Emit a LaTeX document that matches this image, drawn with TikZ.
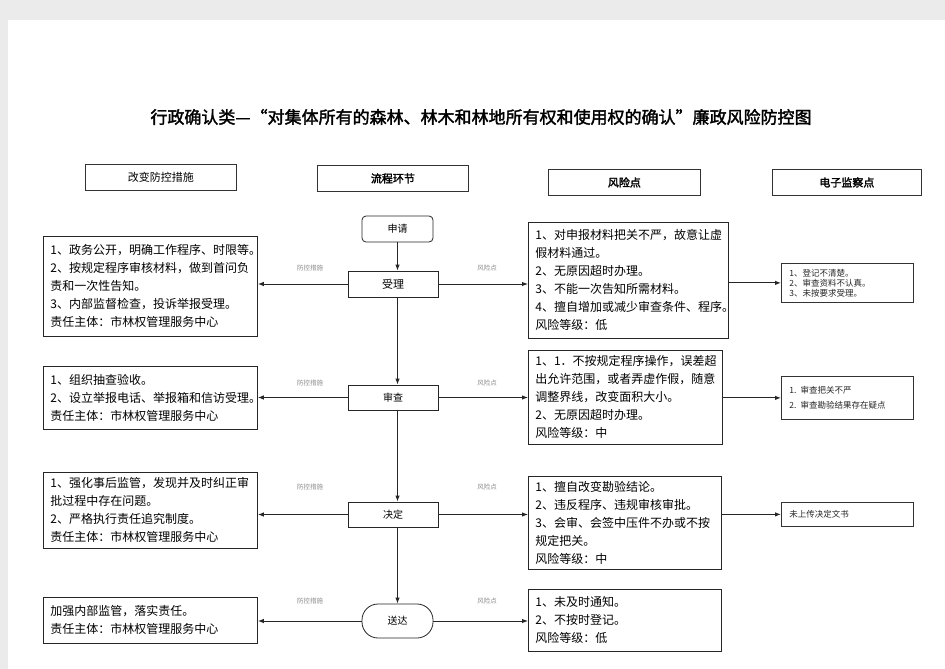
\documentclass[tikz,border=0pt]{standalone}
\usepackage{fontspec}
\setmainfont{Noto Sans CJK SC}
\newfontfamily\cjkbold[FakeBold=2]{Noto Sans CJK SC}
\usetikzlibrary{arrows.meta}
\begin{document}
\begin{tikzpicture}[x=1pt,y=-1pt,
  txt/.style={font=\fontsize{12}{18}\selectfont},
  box/.style={draw=black!85,line width=0.8pt,anchor=north west,align=left,inner xsep=7pt,inner ysep=3pt,txt},
  hdr/.style={draw=black!80,line width=0.8pt,minimum height=26pt,anchor=north west,font=\cjkbold\fontsize{11}{13}\selectfont},
  flow/.style={draw=black!85,line width=0.8pt,font=\fontsize{10}{12}\selectfont},
  mon/.style={draw=black!80,line width=0.8pt,anchor=north west,align=left,inner xsep=8pt,font=\fontsize{8.5}{10}\selectfont,text=black!85},
  tiny/.style={font=\fontsize{6.5}{7}\selectfont,text=black!45},
  arr/.style={draw=black!85,line width=1pt,-{Latex[length=6pt,width=4.5pt]}}]
\useasboundingbox (0,0) rectangle (945,669);
\fill[black!8] (0,0) rectangle (945,669);
\fill[white] (8,20) rectangle (945,669);
% title
\node[font=\cjkbold\fontsize{17}{19}\selectfont] (title) at (481,117) {行政确认类—“对集体所有的森林、林木和林地所有权和使用权的确认”廉政风险防控图};
% headers
\node[hdr,minimum width=151pt,font=\fontsize{11}{13}\selectfont] (h1) at (85,164) {改变防控措施};
\node[hdr,minimum width=151pt] (h2) at (317,165) {流程环节};
\node[hdr,minimum width=152pt] (h3) at (548,169) {风险点};
\node[hdr,minimum width=149pt] (h4) at (772,169) {电子监察点};
% flow nodes
\node[flow,rounded corners=4pt,minimum width=71pt,minimum height=26pt] (sq) at (397.5,229) {申请};
\node[flow,minimum width=90pt,minimum height=26pt,font=\fontsize{11}{12}\selectfont] (sl) at (393,284) {受理};
\node[flow,minimum width=90pt,minimum height=25pt] (sc) at (393,397.5) {审查};
\node[flow,minimum width=90pt,minimum height=25pt] (jd) at (393,514.5) {决定};
\node[flow,rounded corners=16pt,minimum width=71pt,minimum height=34pt] (sd) at (397.5,621) {送达};
% vertical arrows
\draw[arr] (sq.south) -- (sq.south |- sl.north);
\draw[arr] (sq.south |- sl.south) -- (sq.south |- sc.north);
\draw[arr] (sq.south |- sc.south) -- (sq.south |- jd.north);
\draw[arr] (sq.south |- jd.south) -- (sd.north);
% left boxes
\node[box,text width=200pt,minimum width=214pt,minimum height=100pt] (l1) at (43,236) {1、政务公开，明确工作程序、时限等。\\2、按规定程序审核材料，做到首问负\\责和一次性告知。\\3、内部监督检查，投诉举报受理。\\责任主体：市林权管理服务中心};
\node[box,text width=200pt,minimum width=214pt,minimum height=63pt] (l2) at (43,366) {1、组织抽查验收。\\2、设立举报电话、举报箱和信访受理。\\责任主体：市林权管理服务中心};
\node[box,text width=200pt,minimum width=214pt,minimum height=76pt] (l3) at (43,472) {1、强化事后监管，发现并及时纠正审\\批过程中存在问题。\\2、严格执行责任追究制度。\\责任主体：市林权管理服务中心};
\node[box,text width=200pt,minimum width=214pt,minimum height=46pt] (l4) at (43,597) {加强内部监管，落实责任。\\责任主体：市林权管理服务中心};
% right boxes
\node[box,text width=186pt,minimum width=200pt,minimum height=116pt] (r1) at (528,222) {1、对申报材料把关不严，故意让虚\\假材料通过。\\2、无原因超时办理。\\3、不能一次告知所需材料。\\4、擅自增加或减少审查条件、程序。\\风险等级：低};
\node[box,text width=180pt,minimum width=194pt,minimum height=94pt] (r2) at (528,350) {1、1．不按规定程序操作，误差超\\出允许范围，或者弄虚作假，随意\\调整界线，改变面积大小。\\2、无原因超时办理。\\风险等级：中};
\node[box,text width=179pt,minimum width=193pt,minimum height=93pt] (r3) at (528,476) {1、擅自改变勘验结论。\\2、违反程序、违规审核审批。\\3、会审、会签中压件不办或不按\\规定把关。\\风险等级：中};
\node[box,text width=179pt,minimum width=193pt,minimum height=62pt] (r4) at (528,589) {1、未及时通知。\\2、不按时登记。\\风险等级：低};
% monitoring boxes
\node[mon,text width=116pt,minimum width=132pt,minimum height=39pt] (m1) at (781,263) {1、登记不清楚。\\2、审查资料不认真。\\3、未按要求受理。};
\node[mon,text width=116pt,minimum width=132pt,minimum height=43pt,font=\fontsize{8.5}{15}\selectfont] (m2) at (781,376) {1. 审查把关不严\\2. 审查勘验结果存在疑点};
\node[mon,text width=116pt,minimum width=132pt,minimum height=24pt] (m3) at (781,502) {未上传决定文书};
% horizontal arrows
\foreach \f/\l/\r in {sl/l1/r1,sc/l2/r2,jd/l3/r3,sd/l4/r4}{
  \draw[arr] (\f.west) -- (\f.west -| \l.east);
  \draw[arr] (\f.east) -- (\f.east -| \r.west);
}
\draw[arr] (m1.west -| r1.east) -- (m1.west);
\draw[arr] (m2.west -| r2.east) -- (m2.west);
\draw[arr] (m3.west -| r3.east) -- (m3.west);
% small labels
\foreach \y [count=\i] in {268,383,487,601}{
  \node[tiny] (fk\i) at (310,\y) {防控措施};
  \node[tiny] (fx\i) at (487,\y) {风险点};
}
\end{tikzpicture}
\end{document}
